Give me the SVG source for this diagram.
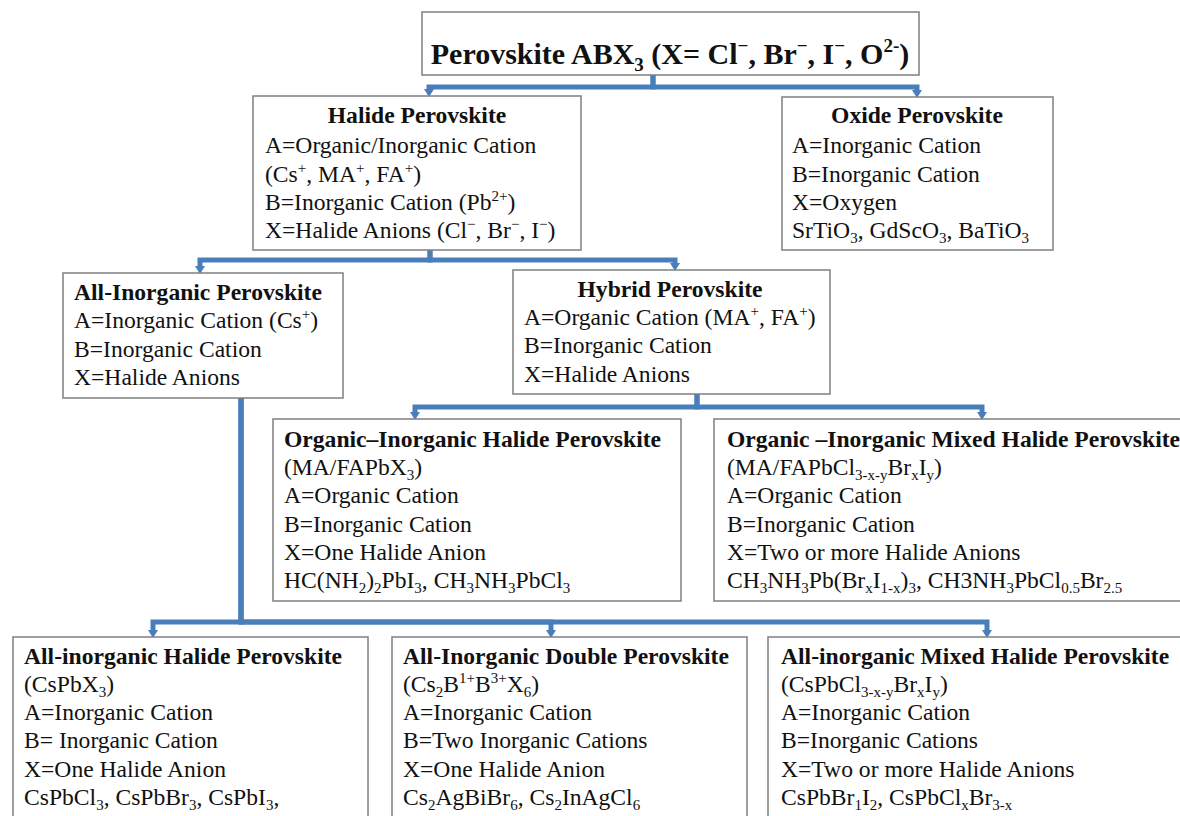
<svg xmlns="http://www.w3.org/2000/svg" width="1180" height="816" viewBox="0 0 1180 816">
<style>
.box{fill:#fff;stroke:#7f7f7f;stroke-width:1.5}
text{font-family:"Liberation Serif","Times New Roman",serif;font-size:23.6px;fill:#111}
.b{font-weight:bold}
.m{text-anchor:middle}
.s{font-size:15px}
.ts{font-size:19px}
.con path{fill:none;stroke:#4a7ebb;stroke-width:5;marker-end:url(#ah)}
</style>
<defs>
<marker id="ah" viewBox="0 0 10 10" refX="0" refY="5" markerWidth="10" markerHeight="10" markerUnits="userSpaceOnUse" orient="auto">
<path d="M0,0 L8,5 L0,10 z" fill="#4a7ebb"/>
</marker>
</defs>
<rect width="1180" height="816" fill="#fff"/>
<g class="con" id="connectors">
<path d="M653,75 V87 H429 V89"/>
<path d="M653,75 V87 H917 V90"/>
<path d="M430,250 V260 H200 V266"/>
<path d="M430,250 V260 H675 V263"/>
<path d="M697,394 V407 H415 V412"/>
<path d="M697,394 V407 H982 V412"/>
<path d="M241,398 V622 H153 V630"/>
<path d="M241,398 V622 H551 V630"/>
<path d="M241,398 V622 H987 V630"/>
</g>
<g id="root">
<rect class="box" x="422" y="12" width="497" height="63"/>
<text class="b m" x="670" y="64" style="font-size:30px">Perovskite ABX<tspan class="ts" dy="7">3</tspan><tspan dy="-7"> (X= Cl</tspan><tspan class="ts" dy="-12">−</tspan><tspan dy="12">, Br</tspan><tspan class="ts" dy="-12">−</tspan><tspan dy="12">, I</tspan><tspan class="ts" dy="-12">−</tspan><tspan dy="12">, O</tspan><tspan class="ts" dy="-12">2-</tspan><tspan dy="12">)</tspan></text>
</g>
<g id="halide">
<rect class="box" x="253" y="96" width="328" height="154"/>
<text class="b m" x="417" y="123">Halide Perovskite</text>
<text x="265" y="153">A=Organic/Inorganic Cation</text>
<text x="265" y="182">(Cs<tspan class="s" dy="-9">+</tspan><tspan dy="9">, MA</tspan><tspan class="s" dy="-9">+</tspan><tspan dy="9">, FA</tspan><tspan class="s" dy="-9">+</tspan><tspan dy="9">)</tspan></text>
<text x="265" y="210">B=Inorganic Cation (Pb<tspan class="s" dy="-9">2+</tspan><tspan dy="9">)</tspan></text>
<text x="265" y="238">X=Halide Anions (Cl<tspan class="s" dy="-9">−</tspan><tspan dy="9">, Br</tspan><tspan class="s" dy="-9">−</tspan><tspan dy="9">, I</tspan><tspan class="s" dy="-9">−</tspan><tspan dy="9">)</tspan></text>
</g>
<g id="oxide">
<rect class="box" x="782" y="97" width="271" height="153"/>
<text class="b m" x="917" y="123">Oxide Perovskite</text>
<text x="792" y="153">A=Inorganic Cation</text>
<text x="792" y="182">B=Inorganic Cation</text>
<text x="792" y="210">X=Oxygen</text>
<text x="792" y="238">SrTiO<tspan class="s" dy="5">3</tspan><tspan dy="-5">, GdScO</tspan><tspan class="s" dy="5">3</tspan><tspan dy="-5">, BaTiO</tspan><tspan class="s" dy="5">3</tspan></text>
</g>
<g id="allinorganic">
<rect class="box" x="63" y="273" width="280" height="125"/>
<text class="b" x="74" y="300">All-Inorganic Perovskite</text>
<text x="74" y="328">A=Inorganic Cation (Cs<tspan class="s" dy="-9">+</tspan><tspan dy="9">)</tspan></text>
<text x="74" y="357">B=Inorganic Cation</text>
<text x="74" y="385">X=Halide Anions</text>
</g>
<g id="hybrid">
<rect class="box" x="513" y="270" width="317" height="124"/>
<text class="b m" x="670" y="297">Hybrid Perovskite</text>
<text x="524" y="325">A=Organic Cation (MA<tspan class="s" dy="-9">+</tspan><tspan dy="9">, FA</tspan><tspan class="s" dy="-9">+</tspan><tspan dy="9">)</tspan></text>
<text x="524" y="353">B=Inorganic Cation</text>
<text x="524" y="382">X=Halide Anions</text>
</g>
<g id="oihalide">
<rect class="box" x="273" y="419" width="408" height="182"/>
<text class="b" x="284" y="447">Organic–Inorganic Halide Perovskite</text>
<text x="284" y="475">(MA/FAPbX<tspan class="s" dy="5">3</tspan><tspan dy="-5">)</tspan></text>
<text x="284" y="503">A=Organic Cation</text>
<text x="284" y="532">B=Inorganic Cation</text>
<text x="284" y="560">X=One Halide Anion</text>
<text x="284" y="588">HC(NH<tspan class="s" dy="5">2</tspan><tspan dy="-5">)</tspan><tspan class="s" dy="5">2</tspan><tspan dy="-5">PbI</tspan><tspan class="s" dy="5">3</tspan><tspan dy="-5">, CH</tspan><tspan class="s" dy="5">3</tspan><tspan dy="-5">NH</tspan><tspan class="s" dy="5">3</tspan><tspan dy="-5">PbCl</tspan><tspan class="s" dy="5">3</tspan></text>
</g>
<g id="oimixed">
<rect class="box" x="714" y="419" width="470" height="182"/>
<text class="b" x="727" y="447">Organic –Inorganic Mixed Halide Perovskite</text>
<text x="727" y="475">(MA/FAPbCl<tspan class="s" dy="5">3-x-y</tspan><tspan dy="-5">Br</tspan><tspan class="s" dy="5">x</tspan><tspan dy="-5">I</tspan><tspan class="s" dy="5">y</tspan><tspan dy="-5">)</tspan></text>
<text x="727" y="503">A=Organic Cation</text>
<text x="727" y="532">B=Inorganic Cation</text>
<text x="727" y="560">X=Two or more Halide Anions</text>
<text x="727" y="588">CH<tspan class="s" dy="5">3</tspan><tspan dy="-5">NH</tspan><tspan class="s" dy="5">3</tspan><tspan dy="-5">Pb(Br</tspan><tspan class="s" dy="5">x</tspan><tspan dy="-5">I</tspan><tspan class="s" dy="5">1-x</tspan><tspan dy="-5">)</tspan><tspan class="s" dy="5">3</tspan><tspan dy="-5">, CH3NH</tspan><tspan class="s" dy="5">3</tspan><tspan dy="-5">PbCl</tspan><tspan class="s" dy="5">0.5</tspan><tspan dy="-5">Br</tspan><tspan class="s" dy="5">2.5</tspan></text>
</g>
<g id="aihalide">
<rect class="box" x="13" y="637" width="355" height="200"/>
<text class="b" x="24" y="664">All-inorganic Halide Perovskite</text>
<text x="24" y="692">(CsPbX<tspan class="s" dy="5">3</tspan><tspan dy="-5">)</tspan></text>
<text x="24" y="720">A=Inorganic Cation</text>
<text x="24" y="748">B= Inorganic Cation</text>
<text x="24" y="777">X=One Halide Anion</text>
<text x="24" y="805">CsPbCl<tspan class="s" dy="5">3</tspan><tspan dy="-5">, CsPbBr</tspan><tspan class="s" dy="5">3</tspan><tspan dy="-5">, CsPbI</tspan><tspan class="s" dy="5">3</tspan><tspan dy="-5">,</tspan></text>
</g>
<g id="aidouble">
<rect class="box" x="392" y="637" width="355" height="200"/>
<text class="b" x="403" y="664">All-Inorganic Double Perovskite</text>
<text x="403" y="692">(Cs<tspan class="s" dy="5">2</tspan><tspan dy="-5">B</tspan><tspan class="s" dy="-9">1+</tspan><tspan dy="9">B</tspan><tspan class="s" dy="-9">3+</tspan><tspan dy="9">X</tspan><tspan class="s" dy="5">6</tspan><tspan dy="-5">)</tspan></text>
<text x="403" y="720">A=Inorganic Cation</text>
<text x="403" y="748">B=Two Inorganic Cations</text>
<text x="403" y="777">X=One Halide Anion</text>
<text x="403" y="805">Cs<tspan class="s" dy="5">2</tspan><tspan dy="-5">AgBiBr</tspan><tspan class="s" dy="5">6</tspan><tspan dy="-5">, Cs</tspan><tspan class="s" dy="5">2</tspan><tspan dy="-5">InAgCl</tspan><tspan class="s" dy="5">6</tspan></text>
</g>
<g id="aimixed">
<rect class="box" x="768" y="637" width="420" height="200"/>
<text class="b" x="781" y="664">All-inorganic Mixed Halide Perovskite</text>
<text x="781" y="692">(CsPbCl<tspan class="s" dy="5">3-x-y</tspan><tspan dy="-5">Br</tspan><tspan class="s" dy="5">x</tspan><tspan dy="-5">I</tspan><tspan class="s" dy="5">y</tspan><tspan dy="-5">)</tspan></text>
<text x="781" y="720">A=Inorganic Cation</text>
<text x="781" y="748">B=Inorganic Cations</text>
<text x="781" y="777">X=Two or more Halide Anions</text>
<text x="781" y="805">CsPbBr<tspan class="s" dy="5">1</tspan><tspan dy="-5">I</tspan><tspan class="s" dy="5">2</tspan><tspan dy="-5">, CsPbCl</tspan><tspan class="s" dy="5">x</tspan><tspan dy="-5">Br</tspan><tspan class="s" dy="5">3-x</tspan></text>
</g>
</svg>
